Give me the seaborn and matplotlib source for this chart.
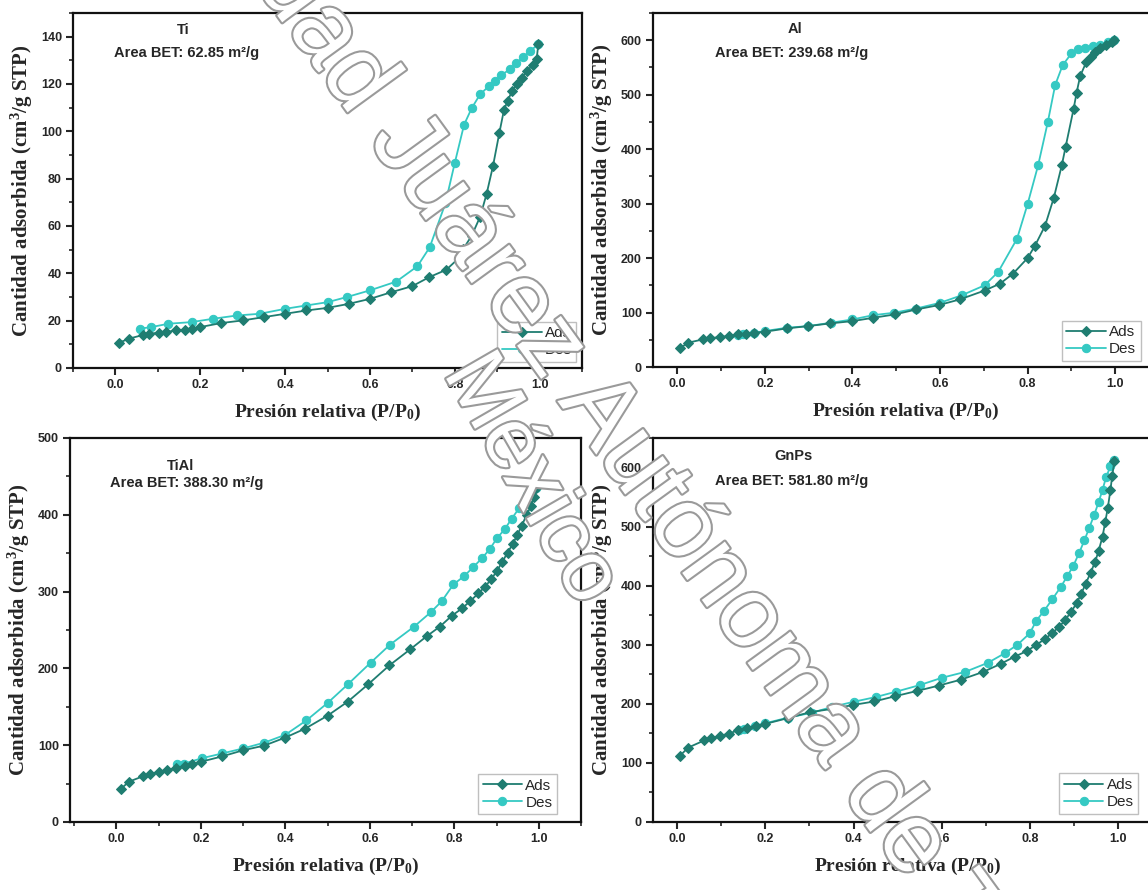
import matplotlib
matplotlib.use("Agg")
import matplotlib.pyplot as plt
import matplotlib.patheffects as pe
from matplotlib.ticker import MultipleLocator, AutoMinorLocator
import seaborn as sns
import pandas as pd

# ---------------- data ----------------
ti_ads_x = [0.009, 0.032, 0.066, 0.08, 0.103, 0.12, 0.142, 0.164, 0.18, 0.2, 0.25, 0.3, 0.35, 0.4, 0.45, 0.5,
            0.55, 0.6, 0.65, 0.7, 0.74, 0.78, 0.81, 0.82, 0.84, 0.86, 0.875, 0.89, 0.905, 0.916, 0.925, 0.935,
            0.946, 0.958, 0.97, 0.984, 0.993, 0.997]
ti_ads_y = [10.7, 12.4, 14.0, 14.5, 14.9, 15.2, 15.9, 16.2, 16.6, 17.3, 19.0, 20.1, 21.5, 22.9, 24.3, 25.4,
            27.1, 29.2, 32.0, 34.6, 38.4, 41.5, 46.5, 50.3, 55.9, 64.0, 73.5, 85.2, 99.2, 109.0, 113.0, 117.0,
            120.0, 122.7, 125.5, 128.0, 130.4, 136.8]
ti_des_x = [0.997, 0.978, 0.962, 0.945, 0.93, 0.91, 0.896, 0.88, 0.86, 0.84, 0.822, 0.8, 0.778, 0.741, 0.712,
            0.662, 0.6, 0.546, 0.5, 0.449, 0.4, 0.34, 0.287, 0.23, 0.18, 0.125, 0.085, 0.057]
ti_des_y = [136.8, 134.0, 131.4, 128.8, 126.2, 123.8, 121.3, 119.0, 115.7, 109.8, 102.8, 86.6, 69.6, 51.0, 43.0,
            36.5, 32.8, 30.0, 27.8, 26.4, 25.0, 22.9, 22.2, 20.8, 19.4, 18.7, 17.3, 16.6]

al_ads_x = [0.006, 0.025, 0.059, 0.074, 0.097, 0.118, 0.139, 0.158, 0.176, 0.2, 0.25, 0.298, 0.349, 0.4, 0.448,
            0.497, 0.546, 0.597, 0.645, 0.702, 0.737, 0.767, 0.8, 0.817, 0.84, 0.86, 0.878, 0.887, 0.905, 0.912,
            0.92, 0.934, 0.944, 0.954, 0.966, 0.979, 0.992, 0.998]
al_ads_y = [34, 44.6, 50.7, 52.5, 55, 56.8, 59.8, 61, 62.9, 64.7, 70.8, 75, 80, 84.2, 90.4, 96.5, 105.6, 113.6,
            124, 140.4, 153, 171.5, 200, 222.8, 259.5, 311, 370, 404.8, 473.7, 504, 534, 560, 569.6, 577.5,
            585, 591, 597, 600]
al_des_x = [0.998, 0.983, 0.966, 0.95, 0.931, 0.916, 0.9, 0.88, 0.863, 0.846, 0.824, 0.8, 0.776, 0.733, 0.702,
            0.65, 0.6, 0.546, 0.494, 0.448, 0.4, 0.351, 0.298, 0.25, 0.2, 0.176, 0.151, 0.14]
al_des_y = [600, 596, 592, 589, 585, 583, 575.7, 554, 517.7, 449, 370, 299, 235.6, 174.6, 150, 131.8, 117.8,
            107.4, 99.5, 95.2, 87.3, 81.2, 75, 72, 66, 63, 60, 59]

tial_ads_x = [0.01, 0.03, 0.063, 0.079, 0.1, 0.12, 0.14, 0.162, 0.18, 0.2, 0.25, 0.3, 0.35, 0.4, 0.447, 0.5,
              0.548, 0.596, 0.646, 0.696, 0.735, 0.766, 0.794, 0.818, 0.837, 0.857, 0.872, 0.888, 0.901, 0.914,
              0.926, 0.939, 0.949, 0.96, 0.971, 0.982, 0.989, 0.993]
tial_ads_y = [43, 52.6, 59.6, 62, 65.7, 67.6, 70.4, 72.3, 76, 78.4, 85.4, 93.4, 99.5, 110, 121.6, 138.5, 156.8,
              179.3, 203.8, 225, 242, 254.5, 268.5, 278, 287.3, 297.7, 306, 316.4, 327, 339, 350.7, 362.4, 374,
              386, 400, 411.7, 423.5, 435]
tial_des_x = [0.993, 0.989, 0.971, 0.954, 0.936, 0.919, 0.901, 0.884, 0.866, 0.845, 0.823, 0.798, 0.77, 0.744,
              0.705, 0.648, 0.602, 0.548, 0.5, 0.45, 0.4, 0.35, 0.3, 0.25, 0.202, 0.16, 0.144]
tial_des_y = [435, 437.6, 425.8, 409, 395, 381, 369.5, 355.4, 343.7, 332, 320, 309.4, 287.3, 273, 254.5, 231,
              207.5, 179.3, 155, 132.4, 113.6, 103.3, 95.8, 89.2, 83, 76, 75]

gnp_ads_x = [0.006, 0.025, 0.061, 0.076, 0.096, 0.117, 0.138, 0.159, 0.179, 0.199, 0.252, 0.302, 0.352, 0.398,
             0.447, 0.495, 0.545, 0.594, 0.644, 0.694, 0.734, 0.766, 0.794, 0.815, 0.835, 0.851, 0.867, 0.881,
             0.894, 0.906, 0.917, 0.927, 0.938, 0.948, 0.956, 0.965, 0.971, 0.977, 0.983, 0.987, 0.992]
gnp_ads_y = [112, 126, 138, 141.5, 145.7, 149.4, 155.5, 159.8, 162.8, 165.9, 176, 186, 191.5, 198, 204, 213, 222,
             231, 241, 254, 267.7, 280, 289.6, 300, 310, 320, 330.5, 342.7, 356, 370, 386.6, 403.7, 422, 440,
             458.5, 483, 507, 531.7, 562, 586, 611]
gnp_des_x = [0.992, 0.983, 0.973, 0.965, 0.956, 0.946, 0.935, 0.924, 0.912, 0.899, 0.885, 0.87, 0.851, 0.833,
             0.815, 0.8, 0.772, 0.744, 0.705, 0.653, 0.6, 0.55, 0.497, 0.451, 0.401, 0.352, 0.306, 0.252, 0.199,
             0.176, 0.151, 0.14]
gnp_des_y = [612, 602, 583.5, 562, 541, 519.5, 498, 477, 455.5, 434, 416, 397.5, 377, 358, 341, 319.5, 300, 286,
             269.5, 254, 244, 231.7, 220.7, 211.6, 203.6, 195, 185, 176.8, 167, 162.8, 158, 156]

sample_names = ["Ti", "Al", "TiAl", "GnPs"]
bet_labels = ["Area BET: 62.85 m²/g", "Area BET: 239.68 m²/g", "Area BET: 388.30 m²/g", "Area BET: 581.80 m²/g"]
series_labels = ["Ads", "Des"]
xlabel_text = "Presión relativa (P/P$_{0}$)"
ylabel_text = "Cantidad adsorbida (cm$^{3}$/g STP)"
watermark_lines = ["Universidad Juárez Autónoma de Tabasco", "México"]

# ---------------- style ----------------
sns.set_style("ticks")
plt.rcParams["font.family"] = ["Liberation Sans", "DejaVu Sans"]
plt.rcParams["mathtext.fontset"] = "custom"
plt.rcParams["mathtext.rm"] = "Liberation Serif:bold"
plt.rcParams["mathtext.it"] = "Liberation Serif:bold:italic"
plt.rcParams["mathtext.bf"] = "Liberation Serif:bold"

ads_color = "#1f7d71"
des_color = "#35c9c3"

fig = plt.figure(figsize=(11.48, 8.9), dpi=100)
W, H = 1148.0, 890.0

def pos(left, right, top, bottom):
    return [left / W, 1 - bottom / H, (right - left) / W, (bottom - top) / H]

panels = [
    dict(rect=pos(73, 582, 13, 368), xlim=(-0.1, 1.1), ylim=(0, 150), ymaj=20,
         ads=(ti_ads_x, ti_ads_y), des=(ti_des_x, ti_des_y),
         name_xy=(0.16, 143), bet_xy=(0.167, 133), leg=(0.989, 0.017)),
    dict(rect=pos(653, 1159, 13, 367), xlim=(-0.055, 1.1), ylim=(0, 650), ymaj=100,
         ads=(al_ads_x, al_ads_y), des=(al_des_x, al_des_y),
         name_xy=(0.269, 621), bet_xy=(0.262, 576), leg=(0.964, 0.017)),
    dict(rect=pos(70, 581, 438, 822), xlim=(-0.11, 1.1), ylim=(0, 500), ymaj=100,
         ads=(tial_ads_x, tial_ads_y), des=(tial_des_x, tial_des_y),
         name_xy=(0.152, 463), bet_xy=(0.167, 442), leg=(0.953, 0.02)),
    dict(rect=pos(653, 1162, 438, 822), xlim=(-0.055, 1.1), ylim=(0, 650), ymaj=100,
         ads=(gnp_ads_x, gnp_ads_y), des=(gnp_des_x, gnp_des_y),
         name_xy=(0.263, 620), bet_xy=(0.26, 577), leg=(0.953, 0.022)),
]

for i, p in enumerate(panels):
    ax = fig.add_axes(p["rect"])
    ads_df = pd.DataFrame({"x": p["ads"][0], "y": p["ads"][1]})
    des_df = pd.DataFrame({"x": p["des"][0], "y": p["des"][1]})
    sns.lineplot(data=ads_df, x="x", y="y", ax=ax, sort=False, estimator=None, color=ads_color,
                 marker="D", markersize=5.5, markeredgecolor=ads_color, linewidth=1.3,
                 label=series_labels[0], zorder=3)
    sns.lineplot(data=des_df, x="x", y="y", ax=ax, sort=False, estimator=None, color=des_color,
                 marker="o", markersize=6, markeredgecolor=des_color, linewidth=1.3,
                 label=series_labels[1], zorder=2)
    ax.set_xlim(*p["xlim"])
    ax.set_ylim(*p["ylim"])
    ax.xaxis.set_major_locator(MultipleLocator(0.2))
    ax.xaxis.set_minor_locator(AutoMinorLocator(2))
    ax.yaxis.set_major_locator(MultipleLocator(p["ymaj"]))
    ax.yaxis.set_minor_locator(AutoMinorLocator(2))
    ax.xaxis.set_major_formatter(matplotlib.ticker.FormatStrFormatter("%.1f"))
    for s in ax.spines.values():
        s.set_linewidth(1.6)
        s.set_color("#111111")
    ax.tick_params(which="major", direction="out", length=5, width=1.5, labelsize=9, pad=3,
                   top=False, right=False)
    ax.tick_params(which="minor", direction="out", length=3, width=1.2, top=False, right=False)
    for lab in ax.get_xticklabels() + ax.get_yticklabels():
        lab.set_fontweight("bold")
    ax.set_xlabel(xlabel_text, fontfamily="Liberation Serif", fontweight="bold", fontsize=14, labelpad=8)
    ax.set_ylabel(ylabel_text, fontfamily="Liberation Serif", fontweight="bold", fontsize=15, labelpad=4)
    ax.text(p["name_xy"][0], p["name_xy"][1], sample_names[i], ha="center", va="center",
            fontsize=10.5, fontweight="bold")
    ax.text(p["bet_xy"][0], p["bet_xy"][1], bet_labels[i], ha="center", va="center",
            fontsize=10.5, fontweight="bold")
    leg = ax.legend(loc="lower right", bbox_to_anchor=p["leg"], frameon=True, fancybox=False,
                    edgecolor="#b0b0b0", fontsize=11, handlelength=2.6, borderpad=0.3,
                    labelspacing=0.2, handletextpad=0.2, borderaxespad=0.0)
    leg.get_frame().set_linewidth(1.0)

# watermark (outlined gray text)
wm_effect = [pe.withStroke(linewidth=3.0, foreground="#9a9a9a")]
fig.text(612 / W, 1 - 432 / H, watermark_lines[0], rotation=-54,
         ha="center", va="center", rotation_mode="anchor", fontsize=72, color="white",
         family="Liberation Sans", path_effects=wm_effect, zorder=20)
fig.text(530 / W, 1 - 480 / H, watermark_lines[1], rotation=-60,
         ha="center", va="center", rotation_mode="anchor", fontsize=62, color="white",
         family="Liberation Sans", path_effects=wm_effect, zorder=20)

fig.savefig("out.png", dpi=100)
